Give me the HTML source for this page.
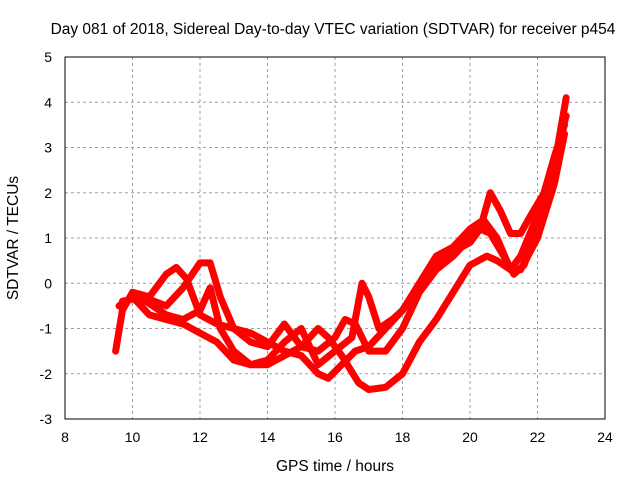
<!DOCTYPE html>
<html><head><meta charset="utf-8"><style>
body{margin:0;background:#fff}
svg{display:block;font-family:"Liberation Sans",sans-serif;font-size:14px}
</style></head><body>
<svg id="chart" width="640" height="480" xmlns="http://www.w3.org/2000/svg">
<text x="333" y="34" text-anchor="middle" font-size="15.5">Day 081 of 2018, Sidereal Day-to-day VTEC variation (SDTVAR) for receiver p454</text>
<text x="335" y="471" text-anchor="middle" font-size="15.5">GPS time / hours</text>
<text transform="translate(18,238) rotate(-90)" text-anchor="middle" font-size="15.5">SDTVAR / TECUs</text>
<g id="grid"></g>
<g id="ticks"></g>
<g id="series"></g>
<rect x="65" y="57" width="540" height="362" fill="none" stroke="#000"/>
</svg>
<script>
const xTicks=[8,10,12,14,16,18,20,22,24];
const yTicks=[-3,-2,-1,0,1,2,3,4,5];
const s1x=[9.5,9.7,10,10.5,11,11.3,11.6,12,12.5,13,13.5,14,14.5,15,15.5,15.8,16.2,16.6,17,17.5,18,18.5,19,19.5,20,20.3,20.6,21,21.3,21.6,22,22.5,22.85];
const s1y=[-1.5,-0.6,-0.2,-0.3,0.2,0.35,0.1,-0.7,-0.9,-1.0,-1.1,-1.3,-1.5,-1.6,-2.0,-2.1,-1.8,-1.5,-1.4,-1.0,-0.6,-0.1,0.4,0.7,0.9,1.2,1.1,0.6,0.2,0.4,1.2,2.6,4.1];
const s2x=[9.6,10,10.4,11,11.5,12,12.3,12.6,13,13.5,14,14.5,15,15.5,15.8,16.2,16.7,17,17.5,18,18.5,19,19.5,20,20.5,20.8,21.2,21.5,22,22.5,22.8];
const s2y=[-0.5,-0.3,-0.4,-0.7,-0.8,-0.6,-0.1,-1.0,-1.5,-1.8,-1.8,-1.6,-1.4,-1.0,-1.2,-1.6,-2.2,-2.35,-2.3,-2.0,-1.3,-0.8,-0.2,0.4,0.6,0.5,0.3,0.6,1.5,2.8,3.5];
const s3x=[9.7,10.3,11,11.5,12,12.3,12.6,13,13.5,14,14.5,15,15.5,16,16.3,16.6,17,17.5,18,18.5,19,19.5,20,20.3,20.6,20.9,21.2,21.5,21.8,22.2,22.6,22.85];
const s3y=[-0.4,-0.3,-0.5,-0.1,0.45,0.45,-0.3,-1.0,-1.3,-1.4,-0.9,-1.4,-1.5,-1.2,-0.8,-0.9,-1.5,-1.5,-1.0,-0.2,0.3,0.6,1.0,1.2,2.0,1.6,1.1,1.1,1.5,2.0,3.0,3.7];
const s4x=[10,10.5,11,11.5,12,12.5,13,13.5,14,14.5,15,15.5,16,16.5,16.8,17,17.3,17.7,18,18.5,19,19.5,20,20.4,20.8,21.2,21.5,22,22.5,22.8];
const s4y=[-0.3,-0.7,-0.8,-0.9,-1.1,-1.3,-1.7,-1.8,-1.7,-1.3,-1.0,-1.8,-1.5,-1.2,0.0,-0.3,-1.0,-0.8,-0.6,0.0,0.6,0.8,1.2,1.4,1.0,0.3,0.3,1.0,2.2,3.3];
const NS="http://www.w3.org/2000/svg";
const X=v=>65+(v-8)/16*540, Y=v=>419-(v+3)/8*362;
function mk(t,p,a){const e=document.createElementNS(NS,t);for(const k in a)e.setAttribute(k,a[k]);p.appendChild(e);return e;}
const g=document.getElementById('grid'),tk=document.getElementById('ticks'),sg=document.getElementById('series');
xTicks.forEach(v=>{const x=X(v);
 if(v>8&&v<24){const l=mk('line',g,{x1:x,x2:x,y1:57,y2:419,stroke:'#a0a0a0','stroke-dasharray':'3,3'});}
 const t=mk('text',tk,{x:x,y:442,'text-anchor':'middle'});t.textContent=v;
 });
yTicks.forEach(v=>{const y=Y(v);
 if(v>-3&&v<5){const l=mk('line',g,{x1:65,x2:605,y1:y,y2:y,stroke:'#a0a0a0','stroke-dasharray':'3,3'});}
 const t=mk('text',tk,{x:52,y:y+5,'text-anchor':'end'});t.textContent=v;
 });
[[s1x,s1y],[s2x,s2y],[s3x,s3y],[s4x,s4y]].forEach((s,i)=>{
 const pts=s[0].map((x,j)=>X(x)+','+Y(s[1][j])).join(' ');
 const p=mk('polyline',sg,{points:pts,fill:'none',stroke:'#ff0000','stroke-width':7,'stroke-linejoin':'round','stroke-linecap':'round'});
 
 
});
</script>
</body></html>
